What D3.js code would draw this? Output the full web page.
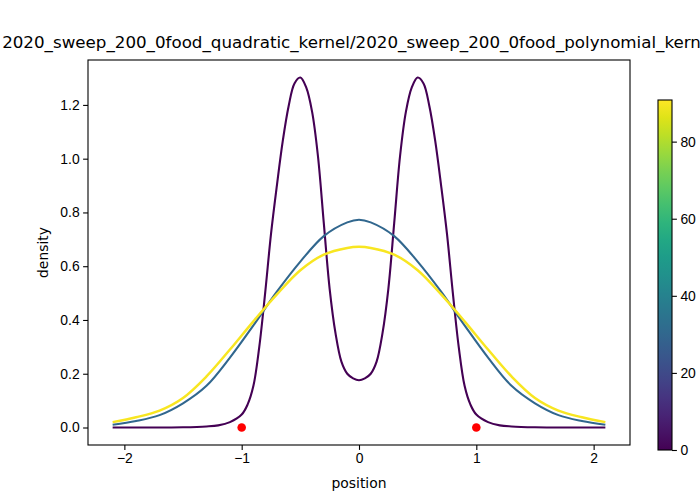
<!DOCTYPE html>
<html>
<head>
<meta charset="utf-8">
<script src="https://cdn.jsdelivr.net/npm/d3@7"></script>
<style>
  body { margin: 0; background: #fff; }
  svg { font-family: "DejaVu Sans", sans-serif; }
  .tick text { font-size: 13.9px; fill: #000; }
</style>
</head>
<body>
<div id="chart"></div>
<script>
// curve at t = 0 (two bumps)
var purpleX = [-2.1, -1.8, -1.5, -1.3, -1.2, -1.1, -1.0, -0.95, -0.9, -0.85, -0.8, -0.75, -0.7, -0.65, -0.6, -0.55, -0.5, -0.45, -0.4, -0.35, -0.3, -0.25, -0.2, -0.15, -0.1, -0.05, 0,
    0.05, 0.1, 0.15, 0.2, 0.25, 0.3, 0.35, 0.4, 0.45, 0.5, 0.55, 0.6, 0.65, 0.7, 0.75, 0.8, 0.85, 0.9, 0.95, 1.0, 1.1, 1.2, 1.3, 1.5, 1.8, 2.1];
var purpleY = [0, 0, 0.001, 0.004, 0.008, 0.020, 0.048, 0.085, 0.155, 0.30, 0.50, 0.72, 0.90, 1.065, 1.195, 1.28, 1.302, 1.265, 1.175, 1.01, 0.76, 0.515, 0.35, 0.245, 0.20, 0.183, 0.176,
    0.183, 0.20, 0.245, 0.35, 0.515, 0.76, 1.01, 1.175, 1.265, 1.302, 1.28, 1.195, 1.065, 0.90, 0.72, 0.50, 0.30, 0.155, 0.085, 0.048, 0.020, 0.008, 0.004, 0.001, 0, 0];

// later curves share one grid
var smoothX = [-2.1, -1.9, -1.7, -1.5, -1.3, -1.1, -0.9, -0.7, -0.5, -0.3, -0.1, 0, 0.1, 0.3, 0.5, 0.7, 0.9, 1.1, 1.3, 1.5, 1.7, 1.9, 2.1];
var blueY = [0.010, 0.024, 0.046, 0.09, 0.155, 0.26, 0.38, 0.505, 0.617, 0.712, 0.763, 0.773, 0.763, 0.712, 0.617, 0.505, 0.38, 0.26, 0.155, 0.09, 0.046, 0.024, 0.010];
var yellowY = [0.020, 0.038, 0.063, 0.11, 0.19, 0.29, 0.395, 0.495, 0.585, 0.643, 0.668, 0.672, 0.668, 0.643, 0.585, 0.495, 0.395, 0.29, 0.19, 0.11, 0.063, 0.038, 0.020];

var times = [0, 30, 90];
var timeMax = 90.8;

var foodX = [-1, 1];
var foodY = [0, 0];

var xTicks = [-2, -1, 0, 1, 2];
var yTicks = [0, 0.2, 0.4, 0.6, 0.8, 1.0, 1.2];
var cbTicks = [0, 20, 40, 60, 80];

var titleText = "2020_sweep_200_0food_quadratic_kernel/2020_sweep_200_0food_polynomial_kernel";

var series = [
    { x: purpleX, y: purpleY, t: times[0], w: 2.1 },
    { x: smoothX, y: blueY, t: times[1], w: 2.1 },
    { x: smoothX, y: yellowY, t: times[2], w: 2.5 }
];

var margin = { left: 88, right: 70, top: 60, bottom: 55 };
var width = 700 - margin.left - margin.right;
var height = 500 - margin.top - margin.bottom;

var svg = d3.select("#chart")
    .append("svg")
    .attr("width", 700)
    .attr("height", 500);

var g = svg.append("g")
    .attr("transform", "translate(" + margin.left + "," + margin.top + ")");

// 5% padding like matplotlib autoscale
var xPad = (2.1 - (-2.1)) * 0.05;
var yMax = d3.max(purpleY);
var yPad = yMax * 0.05;

var x = d3.scaleLinear()
    .domain([-2.1 - xPad, 2.1 + xPad])
    .range([0, width]);

var y = d3.scaleLinear()
    .domain([0 - yPad, yMax + yPad])
    .range([height, 0]);

var color = d3.scaleSequential(d3.interpolateViridis).domain([0, timeMax]);

var line = d3.line()
    .x(function(d) { return x(d[0]); })
    .y(function(d) { return y(d[1]); })
    .curve(d3.curveCatmullRom.alpha(0.5));

g.selectAll(".curve")
    .data(series)
    .enter().append("path")
    .attr("class", "curve")
    .attr("fill", "none")
    .attr("stroke", function(d) { return color(d.t); })
    .attr("stroke-width", function(d) { return d.w; })
    .attr("d", function(d) { return line(d3.zip(d.x, d.y)); });

g.selectAll(".food")
    .data(d3.zip(foodX, foodY))
    .enter().append("circle")
    .attr("class", "food")
    .attr("cx", function(d) { return x(d[0]); })
    .attr("cy", function(d) { return y(d[1]); })
    .attr("r", 4.3)
    .attr("fill", "#ff0000");

var minus = function(v, f) {
    return f(v).replace("-", "\u2212");
};

var xAxis = g.append("g")
    .attr("transform", "translate(0," + height + ")")
    .call(d3.axisBottom(x)
        .tickValues(xTicks)
        .tickSize(4.9)
        .tickPadding(3.5)
        .tickFormat(function(d) { return minus(d, d3.format("d")); }));

var yAxis = g.append("g")
    .call(d3.axisLeft(y)
        .tickValues(yTicks)
        .tickSize(4.9)
        .tickPadding(3.5)
        .tickFormat(d3.format(".1f")));

[xAxis, yAxis].forEach(function(a) {
    a.select(".domain").remove();
    a.selectAll(".tick line").attr("stroke", "#000").attr("stroke-width", 1.1);
});

// frame
g.append("rect")
    .attr("width", width)
    .attr("height", height)
    .attr("fill", "none")
    .attr("stroke", "#000")
    .attr("stroke-width", 1.1);

g.append("text")
    .attr("x", width / 2)
    .attr("y", height + 43)
    .attr("text-anchor", "middle")
    .attr("font-size", "13.9px")
    .text("position");

g.append("text")
    .attr("transform", "rotate(-90)")
    .attr("x", -height / 2)
    .attr("y", -40)
    .attr("text-anchor", "middle")
    .attr("font-size", "13.9px")
    .text("density");

svg.append("text")
    .attr("x", margin.left + width / 2)
    .attr("y", 48)
    .attr("text-anchor", "middle")
    .attr("font-size", "16.7px")
    .text(titleText);

// colorbar
var cb = { left: 658, top: 100, w: 14, h: 350 };

var cy = d3.scaleLinear()
    .domain([0, timeMax])
    .range([cb.top + cb.h, cb.top]);

var defs = svg.append("defs");
var grad = defs.append("linearGradient")
    .attr("id", "viridis")
    .attr("x1", "0").attr("y1", "1")
    .attr("x2", "0").attr("y2", "0");

grad.selectAll("stop")
    .data(d3.range(0, 1.0001, 0.05))
    .enter().append("stop")
    .attr("offset", function(d) { return d; })
    .attr("stop-color", function(d) { return d3.interpolateViridis(d); });

svg.append("rect")
    .attr("x", cb.left)
    .attr("y", cb.top)
    .attr("width", cb.w)
    .attr("height", cb.h)
    .attr("fill", "url(#viridis)")
    .attr("stroke", "#000")
    .attr("stroke-width", 1.1);

var cbAxis = svg.append("g")
    .attr("transform", "translate(" + (cb.left + cb.w) + ",0)")
    .call(d3.axisRight(cy)
        .tickValues(cbTicks)
        .tickSize(4.9)
        .tickPadding(3.5)
        .tickFormat(d3.format("d")));

cbAxis.select(".domain").remove();
cbAxis.selectAll(".tick line").attr("stroke", "#000").attr("stroke-width", 1.1);
</script>
</body>
</html>
